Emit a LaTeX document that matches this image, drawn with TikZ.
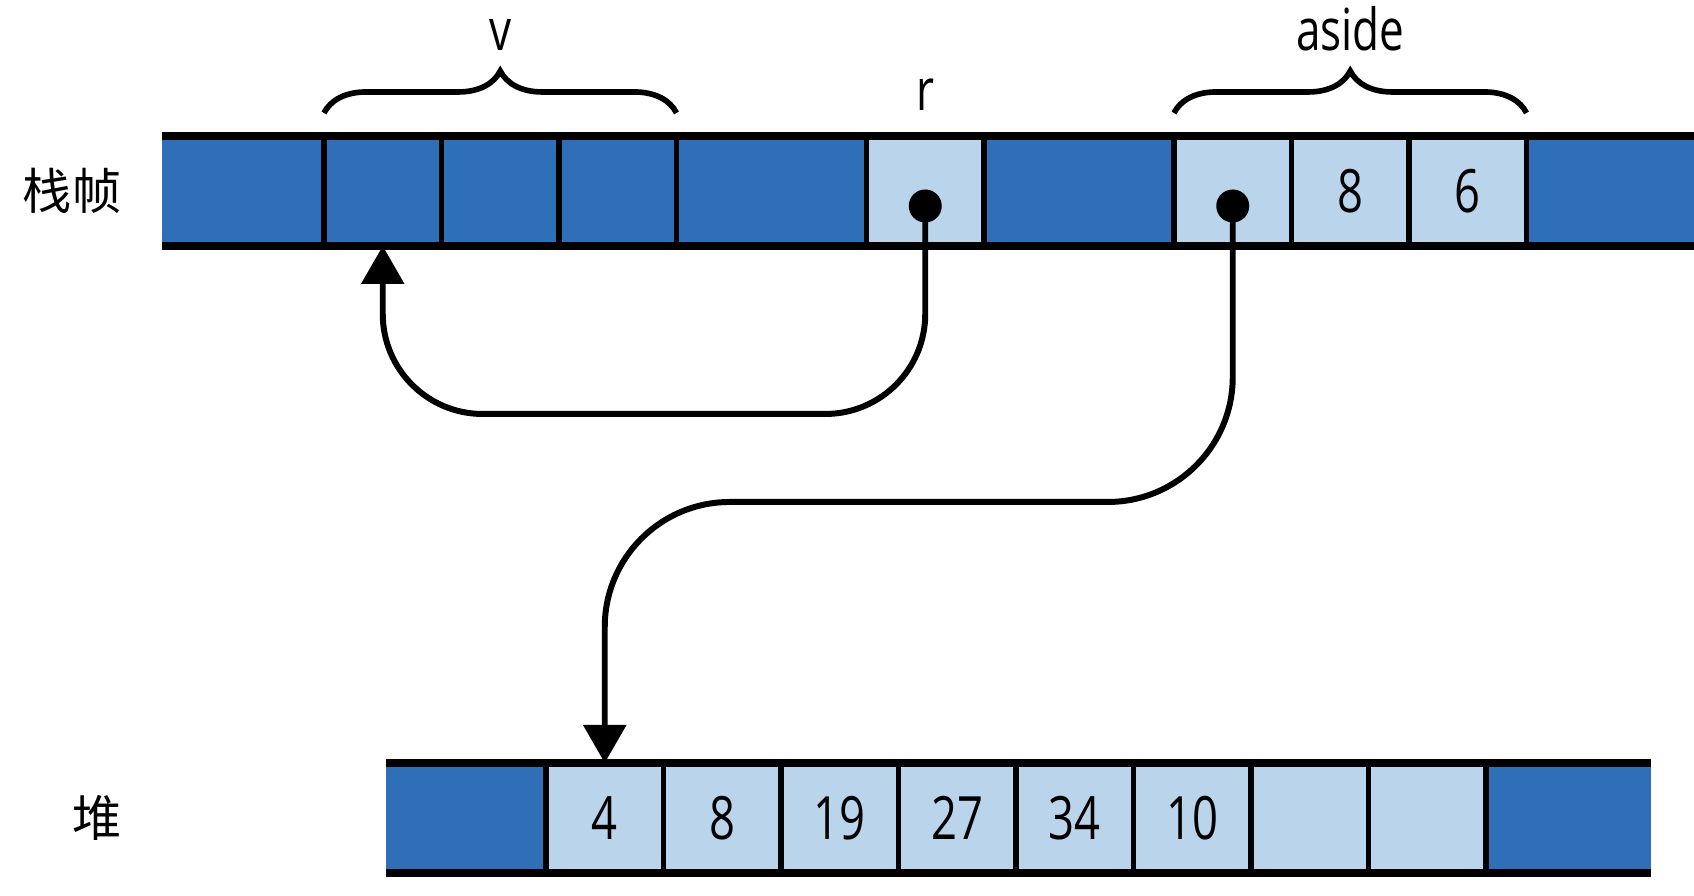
\documentclass[tikz,border=0pt]{standalone}
\usepackage{fontspec}
\setmainfont{Open Sans}[FakeStretch=0.76]
\newfontfamily\cjkfont{Noto Sans CJK SC}
\usetikzlibrary{positioning, arrows.meta, decorations.pathreplacing}
\definecolor{cellblue}{RGB}{47,111,183}
\definecolor{cellpale}{RGB}{186,212,236}

\begin{document}
\begin{tikzpicture}[x=1cm, y=1cm, >={Triangle[width=4.2mm,length=3.8mm]},
  cell/.style={inner sep=0pt, outer sep=0pt, minimum height=1.1cm, minimum width=1.175cm,
    line width=1.5pt, font=\fontsize{17}{20}\selectfont},
  full/.style={cell, fill=cellblue, draw},
  pale/.style={cell, fill=cellpale, draw},
  endcell/.style={cell, fill=cellblue},
  bar/.style={line width=2.4pt},
  divider/.style={line width=1.5pt},
  ptr/.style={line width=1.7pt, ->},
  ptrdot/.style={circle, fill, inner sep=0pt, minimum size=3.3mm},
  brc/.style={line width=1.6pt, decorate, decoration={brace, amplitude=4.2mm}},
  lbl/.style={inner sep=0pt, font=\fontsize{16.5}{19}\selectfont},
  cjk/.style={inner sep=0pt, font=\cjkfont\fontsize{14}{17}\selectfont}]
  \useasboundingbox (0,0) rectangle (16.94,8.96);
  % stack frame
  \node[endcell, minimum width=1.62cm, anchor=west] (s1) at (1.62,7.05) {};
  \node[full, right=0pt of s1] (s2) {};
  \node[full, right=0pt of s2] (s3) {};
  \node[full, right=0pt of s3] (s4) {};
  \node[full, minimum width=1.9cm, right=0pt of s4] (s5) {};
  \node[pale, right=0pt of s5] (s6) {};
  \node[full, minimum width=1.9cm, right=0pt of s6] (s7) {};
  \node[pale, right=0pt of s7] (s8) {};
  \node[pale, right=0pt of s8] (s9) {8};
  \node[pale, right=0pt of s9] (s10) {6};
  \node[endcell, minimum width=1.675cm, right=0pt of s10] (s11) {};
  \draw[divider] (s11.north west) -- (s11.south west);
  \draw[bar] (s1.north west) -- (s11.north east);
  \draw[bar] (s1.south west) -- (s11.south east);
  \node[cjk, left=4mm of s1] (stacklbl) {栈帧};
  % heap
  \node[endcell, minimum width=1.6cm, anchor=west] (h0) at (3.86,0.78) {};
  \node[pale, right=0pt of h0] (h1) {4};
  \node[pale, right=0pt of h1] (h2) {8};
  \node[pale, right=0pt of h2] (h3) {19};
  \node[pale, right=0pt of h3] (h4) {27};
  \node[pale, right=0pt of h4] (h5) {34};
  \node[pale, right=0pt of h5] (h6) {10};
  \node[pale, right=0pt of h6] (h7) {};
  \node[pale, right=0pt of h7] (h8) {};
  \node[endcell, minimum width=1.65cm, right=0pt of h8] (h9) {};
  \draw[divider] (h9.north west) -- (h9.south west);
  \draw[bar] (h0.north west) -- (h9.north east);
  \draw[bar] (h0.south west) -- (h9.south east);
  \node[cjk, anchor=east] (heaplbl) at (stacklbl.east |- h0.center) {堆};
  % names
  \draw[brc] ([yshift=2.3mm]s2.north west) -- ([yshift=2.3mm]s4.north east)
    node[lbl, midway, anchor=base, yshift=6.2mm] (vlbl) {v};
  \node[lbl, anchor=base] (rlbl) at ([yshift=2.5mm]s6.north) {r};
  \draw[brc] ([yshift=2.3mm]s8.north west) -- ([yshift=2.3mm]s10.north east)
    node[lbl, midway, anchor=base, yshift=6.2mm] (asidelbl) {aside};
  % pointers
  \node[ptrdot] (rdot) at ([yshift=-1.5mm]s6.center) {};
  \node[ptrdot] (adot) at ([yshift=-1.5mm]s8.center) {};
  \draw[ptr, rounded corners=1cm] (rdot.center) |- ([yshift=-1.68cm]s2.south) -- (s2.south);
  \draw[ptr, rounded corners=1.25cm] (adot.center) |- ([yshift=2.61cm]h1.north) -- (h1.north);
\end{tikzpicture}
\end{document}
